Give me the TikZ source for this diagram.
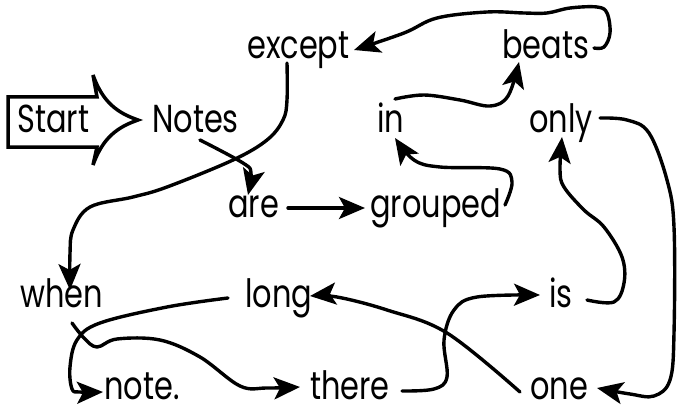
\documentclass[tikz,border=0pt]{standalone}
\usepackage{fontspec}
\setmainfont{Poppins}[FakeStretch=0.78]
\usetikzlibrary{arrows.meta}
\begin{document}
\begin{tikzpicture}[x=1pt,y=-1pt,
  word/.style={anchor=base west,inner sep=0pt,font=\fontsize{39}{42}\selectfont},
  lowword/.style={word,text depth=0pt},
  conn/.style={line width=3.4pt,-{Stealth[length=26pt,width=22pt,inset=6pt]},line cap=round,line join=round},
  startarrow/.style={line width=3.5pt,line join=miter,fill=white}]
\useasboundingbox (0,0) rectangle (677,409);
% start arrow shape
\draw[startarrow] (8,97) -- (97,97) -- (93,75) .. controls (103,103) and (118,113) .. (138,120)
  .. controls (118,127) and (103,137) .. (93,165) -- (97,147) -- (8,147) -- cycle;
\node[word] (start) at (17,132) {Start};
% words
\node[word] (Notes) at (152,132) {Notes};
\node[word] (except) at (247,59) {except};
\node[word] (beats) at (502,59) {beats};
\node[word] (in) at (377,132) {in};
\node[word] (only) at (529,132) {only};
\node[word] (are) at (228,217) {are};
\node[word] (grouped) at (370,217) {grouped};
\node[word] (when) at (20,307) {when};
\node[word] (long) at (245,307) {long};
\node[word] (is) at (549,307) {is};
\node[lowword] (note) at (104,399) {note.};
\node[lowword] (there) at (310,399) {there};
\node[lowword] (one) at (530,399) {one};
% connectors
\draw[conn] plot[smooth,tension=0.6] coordinates {([shift={(48,8)}]Notes.base west) (243,163) (251,173) ([shift={(20,-22)}]are.base west)};
\draw[conn] ([shift={(60,-9)}]are.base west) -- ([shift={(-5,-9)}]grouped.base west);
\draw[conn] plot[smooth,tension=0.6] coordinates {([shift={(135,-12)}]grouped.base west) (512,182) (500,169) (440,167) (414,160) ([shift={(18,6)}]in.base west)};
\draw[conn] plot[smooth,tension=0.6] coordinates {([shift={(18,-33)}]in.base west) (424,95) (460,100) (490,106) (508,96) ([shift={(17,3)}]beats.base west)};
\draw[conn] plot[smooth,tension=0.6] coordinates {([shift={(92,-11)}]beats.base west) (604,47) (610,33) (607,13) (597,7) (570,8) (547,13) (524,13) (487,12) (437,18) (404,33) ([shift={(107,-9)}]except.base west)};
\draw[conn] plot[smooth,tension=0.6] coordinates {([shift={(40,4)}]except.base west) (287,100) (283,120) (267,140) (233,160) (167,187) (133,197) (90,207) (73,230) (70,253) ([shift={(50,-17)}]when.base west)};
\draw[conn] plot[smooth,tension=0.6] coordinates {([shift={(52,16)}]when.base west) (84,338) (97,347) (117,339) (160,340) (200,357) (240,386) (267,388) ([shift={(-10,-12)}]there.base west)};
\draw[conn] plot[smooth,tension=0.6] coordinates {([shift={(92,-8)}]there.base west) (434,389) (447,377) (444,340) (454,310) (477,297) ([shift={(-9,-12)}]is.base west)};
\draw[conn] plot[smooth,tension=0.6] coordinates {([shift={(38,-7)}]is.base west) (614,302) (624,283) (622,257) (604,227) (584,210) (564,187) (560,170) ([shift={(33,5)}]only.base west)};
\draw[conn] plot[smooth,tension=0.6] coordinates {([shift={(71,-14)}]only.base west) (627,120) (649,133) (667,180) (674,227) (674,333) (670,380) (654,396) (630,394) ([shift={(67,-11)}]one.base west)};
\draw[conn] plot[smooth,tension=0.6] coordinates {([shift={(-10,-7)}]one.base west) (447,333) (387,310) (337,297) ([shift={(65,-11)}]long.base west)};
\draw[conn] plot[smooth,tension=0.6] coordinates {([shift={(-17,-9)}]long.base west) (167,307) (100,323) (77,340) (70,367) (72,389) (80,392) ([shift={(-1,-7)}]note.base west)};
\end{tikzpicture}
\end{document}
